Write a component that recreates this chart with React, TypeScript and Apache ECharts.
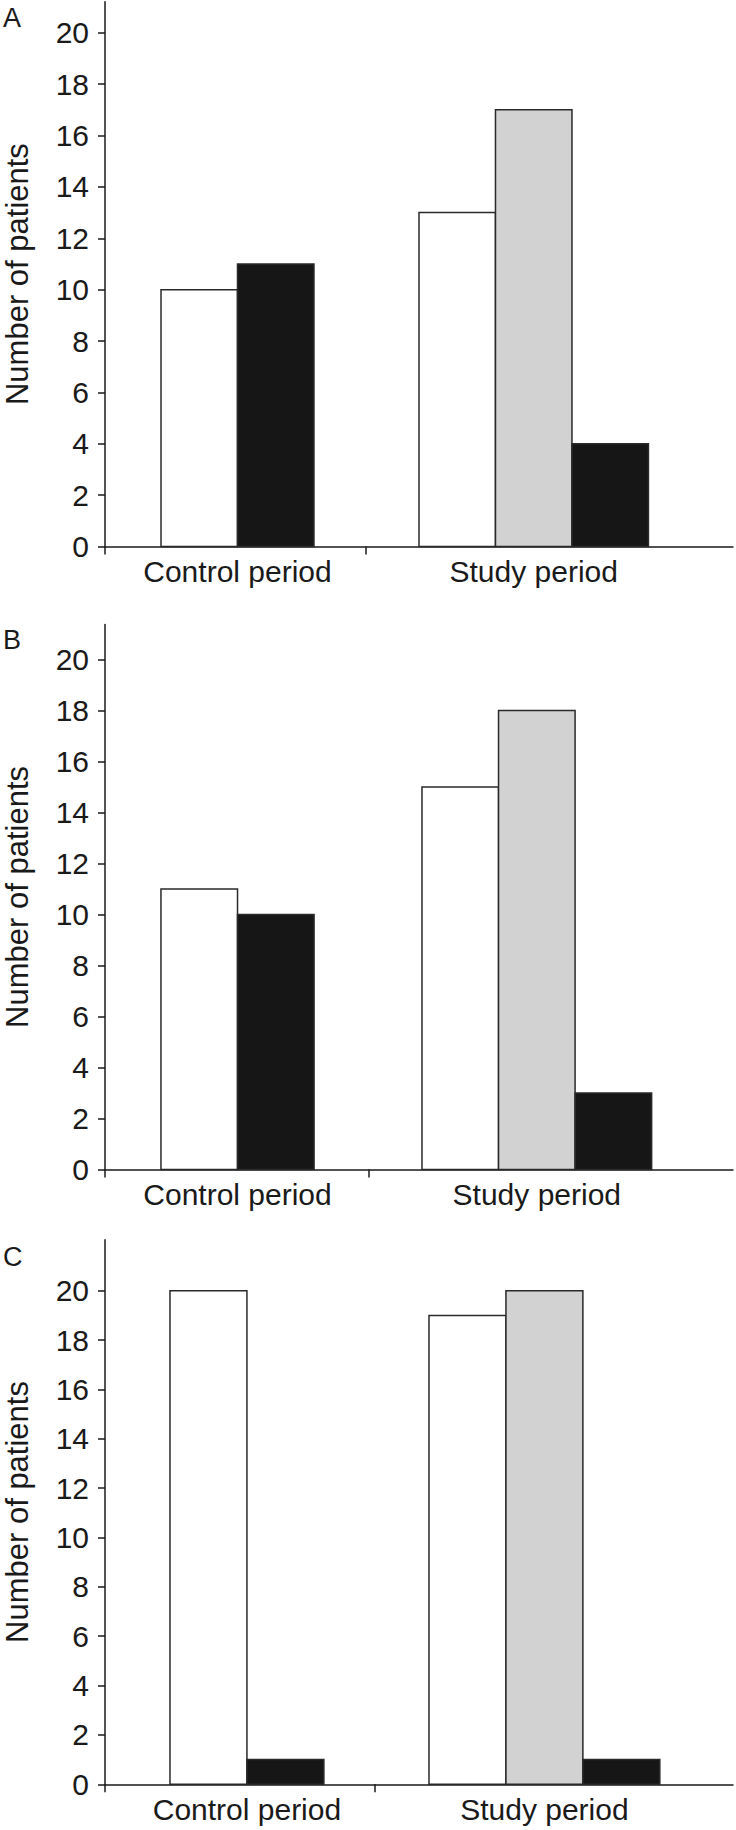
import React, { useEffect, useRef } from "react";
import * as echarts from "echarts";

// ---- data ----
const groups = ["Control period", "Study period"];
const panelLetters = ["A", "B", "C"];
const yTicks = [0, 2, 4, 6, 8, 10, 12, 14, 16, 18, 20];
const yAxisTitle = "Number of patients";

const panelA_white = [10, 13];
const panelA_grey = [null, 17];
const panelA_black = [11, 4];

const panelB_white = [11, 15];
const panelB_grey = [null, 18];
const panelB_black = [10, 3];

const panelC_white = [20, 19];
const panelC_grey = [null, 20];
const panelC_black = [1, 1];

// ---- styles / layout ----
const FONT = "'Liberation Sans', Arial, Helvetica, sans-serif";
const INK = "#1a1a1a";
const FILLS = ["#ffffff", "#d2d2d2", "#161616"];
const SERIES_NAMES = ["White", "Grey", "Black"];

const panels = [
  { values: [panelA_white, panelA_grey, panelA_black], grid: { top: 1.7, height: 544.8 }, yMax: 21.21, xMax: 2.406, barW: 0.293, groupStart: [0.2146, 1.203], letterTop: 4.8 },
  { values: [panelB_white, panelB_grey, panelB_black], grid: { top: 624.5, height: 544.9 }, yMax: 21.37, xMax: 2.379, barW: 0.29, groupStart: [0.212, 1.2008], letterTop: 626.8 },
  { values: [panelC_white, panelC_grey, panelC_black], grid: { top: 1239.7, height: 544.6 }, yMax: 22.07, xMax: 2.326, barW: 0.285, groupStart: [0.2407, 1.2], letterTop: 1243.8 },
];

function buildOption() {
  const grid: any[] = [];
  const xAxis: any[] = [];
  const yAxis: any[] = [];
  const series: any[] = [];
  const graphic: any[] = [];

  panels.forEach((p, pi) => {
    grid.push({ left: 105, width: 628, top: p.grid.top, height: p.grid.height, outerBoundsMode: "none" });

    // slot assignment: bars of a group are packed in series order
    const counts = groups.map(() => 0);
    const seriesData = p.values.map((vals) =>
      vals
        .map((v, g) => (v == null ? null : [g, v, counts[g]++]))
        .filter((d) => d != null)
    );
    const centers = groups.map((_, g) => p.groupStart[g] + (counts[g] * p.barW) / 2);

    xAxis.push({
      type: "value",
      gridIndex: pi,
      min: 0,
      max: p.xMax,
      splitLine: { show: false },
      axisLine: { show: true, lineStyle: { color: INK, width: 1.5 } },
      axisTick: { show: true, customValues: [0, 1], length: 8, lineStyle: { color: INK, width: 1.5 } },
      axisLabel: {
        customValues: centers,
        margin: 10,
        fontSize: 30,
        fontFamily: FONT,
        color: INK,
        formatter: (v: number) => {
          const i = centers.findIndex((c) => Math.abs(c - v) < 1e-6);
          return i >= 0 ? groups[i] : "";
        },
      },
    });

    yAxis.push({
      type: "value",
      gridIndex: pi,
      min: 0,
      max: p.yMax,
      splitLine: { show: false },
      axisLine: { show: true, lineStyle: { color: INK, width: 1.5 } },
      axisTick: { show: true, customValues: yTicks, length: 7, lineStyle: { color: INK, width: 1.5 } },
      axisLabel: { customValues: yTicks, margin: 16, fontSize: 30, fontFamily: FONT, color: INK },
      name: yAxisTitle,
      nameLocation: "middle",
      nameGap: 72,
      nameTextStyle: { fontSize: 31, fontFamily: FONT, color: INK },
    });

    seriesData.forEach((data, si) => {
      series.push({
        type: "custom",
        name: SERIES_NAMES[si],
        xAxisIndex: pi,
        yAxisIndex: pi,
        coordinateSystem: "cartesian2d",
        encode: { x: 0, y: 1 },
        data,
        z: 3,
        renderItem: (params: any, api: any) => {
          const g = api.value(0);
          const v = api.value(1);
          const slot = api.value(2);
          const x0 = p.groupStart[g] + slot * p.barW;
          const a = api.coord([x0, 0]);
          const b = api.coord([x0 + p.barW, v]);
          return {
            type: "rect",
            shape: { x: a[0], y: b[1], width: b[0] - a[0], height: a[1] - b[1] },
            style: { fill: FILLS[si], stroke: "#2a2a2a", lineWidth: 1.5 },
          };
        },
      });
    });

    graphic.push({
      type: "text",
      left: 3,
      top: p.letterTop,
      style: { text: panelLetters[pi], fontSize: 27, fontFamily: FONT, fill: INK },
    });
  });

  return { animation: false, backgroundColor: "#ffffff", grid, xAxis, yAxis, series, graphic };
}

export default function App() {
  const ref = useRef<HTMLDivElement>(null);
  useEffect(() => {
    if (!ref.current) return;
    const chart = echarts.init(ref.current, null, { renderer: "svg" });
    chart.setOption(buildOption());
    return () => chart.dispose();
  }, []);
  return (
    <div
      ref={ref}
      style={{ position: "absolute", left: 0, top: 0, width: 736, height: 1830, background: "#fff" }}
    />
  );
}
